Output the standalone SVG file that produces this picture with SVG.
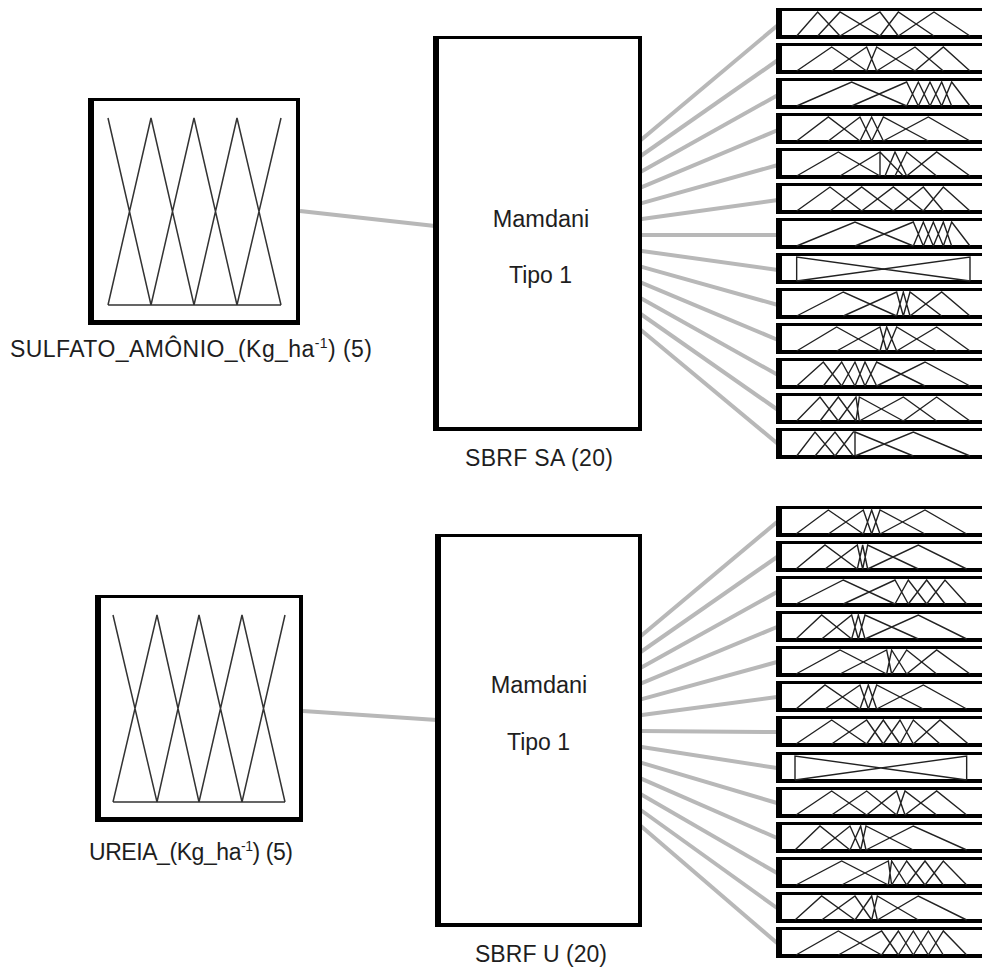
<svg xmlns="http://www.w3.org/2000/svg" xmlns:xlink="http://www.w3.org/1999/xlink" width="982" height="970" viewBox="0 0 982 970">
<style>
text{font-family:"Liberation Sans",Arial,sans-serif;fill:#1e1e1e}
.conn{stroke:#b8b8b8;stroke-width:4;fill:none}
.imf{stroke:#333;stroke-width:1.5;fill:none}
.omf{stroke:#222;stroke-width:1.4;fill:none;vector-effect:non-scaling-stroke}
</style>
<defs>
<g id="oframe">
<rect x="778" y="1.5" width="220" height="27" fill="#fff" stroke="#000" stroke-width="3"/>
<rect x="776" y="0" width="6" height="31" fill="#000"/>
<rect x="776" y="27" width="220" height="4" fill="#000"/>
</g>
</defs>
<rect width="982" height="970" fill="#fff"/>
<g id="connectors">
<line class="conn" x1="300" y1="211" x2="435" y2="226"/>
<line class="conn" x1="303" y1="711" x2="437" y2="720"/>
<line class="conn" x1="640" y1="140.8" x2="778" y2="25"/>
<line class="conn" x1="640" y1="156.5" x2="778" y2="60"/>
<line class="conn" x1="640" y1="172.2" x2="778" y2="95"/>
<line class="conn" x1="640" y1="187.9" x2="778" y2="130"/>
<line class="conn" x1="640" y1="203.6" x2="778" y2="165"/>
<line class="conn" x1="640" y1="219.3" x2="778" y2="200"/>
<line class="conn" x1="640" y1="235" x2="778" y2="235"/>
<line class="conn" x1="640" y1="250.7" x2="778" y2="270"/>
<line class="conn" x1="640" y1="266.4" x2="778" y2="305"/>
<line class="conn" x1="640" y1="282.1" x2="778" y2="340"/>
<line class="conn" x1="640" y1="297.8" x2="778" y2="375"/>
<line class="conn" x1="640" y1="313.5" x2="778" y2="410"/>
<line class="conn" x1="640" y1="329.2" x2="778" y2="444"/>
<line class="conn" x1="640" y1="636.8" x2="777" y2="522"/>
<line class="conn" x1="640" y1="652.5" x2="777" y2="557"/>
<line class="conn" x1="640" y1="668.2" x2="777" y2="592"/>
<line class="conn" x1="640" y1="683.9" x2="777" y2="627"/>
<line class="conn" x1="640" y1="699.6" x2="777" y2="662"/>
<line class="conn" x1="640" y1="715.3" x2="777" y2="697"/>
<line class="conn" x1="640" y1="731" x2="777" y2="732"/>
<line class="conn" x1="640" y1="746.7" x2="777" y2="768"/>
<line class="conn" x1="640" y1="762.4" x2="777" y2="803"/>
<line class="conn" x1="640" y1="778.1" x2="777" y2="838"/>
<line class="conn" x1="640" y1="793.8" x2="777" y2="873"/>
<line class="conn" x1="640" y1="809.5" x2="777" y2="908"/>
<line class="conn" x1="640" y1="825.2" x2="777" y2="943"/>
</g>

<g id="in-sulfato">
<rect x="90.5" y="99.5" width="208" height="223" fill="#fff" stroke="#000" stroke-width="3"/>
<rect x="88" y="98" width="6" height="227" fill="#000"/>
<rect x="88" y="320" width="212" height="5" fill="#000"/>
<rect x="296" y="98" width="4" height="227" fill="#000"/>
<path class="imf" d="M108,118 L151,305 M108,305 L151,118 L194,305 M151,305 L194,118 L237,305 M194,305 L237,118 L281,305 M237,305 L281,118 M108,305 L281,305"/>
<text x="10" y="357" font-size="23" textLength="362" lengthAdjust="spacing">SULFATO_AMÔNIO_(Kg_ha<tspan font-size="14" dy="-9">-1</tspan><tspan dy="9">) (5)</tspan></text>
</g>

<g id="in-ureia">
<rect x="97.5" y="596.5" width="204" height="223" fill="#fff" stroke="#000" stroke-width="3"/>
<rect x="95" y="595" width="6" height="227" fill="#000"/>
<rect x="95" y="817" width="208" height="5" fill="#000"/>
<rect x="299" y="595" width="4" height="227" fill="#000"/>
<path class="imf" d="M113,615 L157,802 M113,802 L157,615 L199,802 M157,802 L199,615 L242,802 M199,802 L242,615 L285,802 M242,802 L285,615 M113,802 L285,802"/>
<text x="89" y="860" font-size="23" textLength="204" lengthAdjust="spacing">UREIA_(Kg_ha<tspan font-size="14" dy="-9">-1</tspan><tspan dy="9">) (5)</tspan></text>
</g>

<g id="sbrf-sa">
<rect x="435.5" y="37.5" width="205" height="391" fill="#fff" stroke="#000" stroke-width="3"/>
<rect x="433" y="36" width="6" height="395" fill="#000"/>
<rect x="433" y="427" width="209" height="4" fill="#000"/>
<rect x="638" y="36" width="4" height="395" fill="#000"/>
<text x="541" y="227" font-size="23.5" text-anchor="middle">Mamdani</text>
<text x="540.5" y="283" font-size="23" text-anchor="middle">Tipo 1</text>
<text x="539" y="466" font-size="23" text-anchor="middle" textLength="148" lengthAdjust="spacing">SBRF SA (20)</text>
</g>

<g id="sbrf-u">
<rect x="437.5" y="535.5" width="203" height="389" fill="#fff" stroke="#000" stroke-width="3"/>
<rect x="435" y="534" width="6" height="393" fill="#000"/>
<rect x="435" y="923" width="207" height="4" fill="#000"/>
<rect x="638" y="534" width="4" height="393" fill="#000"/>
<text x="539" y="693" font-size="23.5" text-anchor="middle">Mamdani</text>
<text x="538.5" y="750" font-size="23" text-anchor="middle">Tipo 1</text>
<text x="541" y="962" font-size="23" text-anchor="middle" textLength="132" lengthAdjust="spacing">SBRF U (20)</text>
</g>

<g id="out-sa-1"><use xlink:href="#oframe" y="8"/><g transform="translate(770,8) scale(0.33333,1)"><path class="omf" d="M80,28L143,4L210,28M143,28L210,4L330,28M210,28L330,4L385,28M330,28L385,4L492,28M385,28L492,4L600,28"/></g></g>
<g id="out-sa-2"><use xlink:href="#oframe" y="43"/><g transform="translate(770,43) scale(0.33333,1)"><path class="omf" d="M80,28L185,4L290,28M185,28L290,4L320,28M290,28L320,4L435,28M320,28L435,4L520,28M435,28L520,4L600,28"/></g></g>
<g id="out-sa-3"><use xlink:href="#oframe" y="78"/><g transform="translate(770,78) scale(0.33333,1)"><path class="omf" d="M80,28L245,4L410,28M245,28L410,4L445,28M410,28L445,4L480,28M445,28L480,4L515,28M480,28L515,4L545,28M515,28L545,4L600,28"/></g></g>
<g id="out-sa-4"><use xlink:href="#oframe" y="113"/><g transform="translate(770,113) scale(0.33333,1)"><path class="omf" d="M80,28L175,4L270,28M175,28L270,4L305,28M270,28L305,4L340,28M305,28L340,4L475,28M340,28L475,4L600,28"/></g></g>
<g id="out-sa-5"><use xlink:href="#oframe" y="148"/><g transform="translate(770,148) scale(0.33333,1)"><path class="omf" d="M80,28L205,4L330,28M210,28L330,4L330,28M330,4L400,28M345,28L375,4L410,28M375,28L410,4L500,28M410,28L500,4L600,28"/></g></g>
<g id="out-sa-6"><use xlink:href="#oframe" y="183"/><g transform="translate(770,183) scale(0.33333,1)"><path class="omf" d="M80,28L180,4L275,28M180,28L275,4L370,28M275,28L370,4L460,28M370,28L460,4L520,28M460,28L520,4L600,28"/></g></g>
<g id="out-sa-7"><use xlink:href="#oframe" y="218"/><g transform="translate(770,218) scale(0.33333,1)"><path class="omf" d="M80,28L255,4L430,28M255,28L430,4L460,28M430,28L460,4L490,28M460,28L490,4L520,28M490,28L520,4L545,28M520,28L545,4L600,28"/></g></g>
<g id="out-sa-8"><use xlink:href="#oframe" y="253"/><g transform="translate(770,253) scale(0.33333,1)"><path class="omf" d="M80,28L80,4L600,28M80,28L600,4L600,28"/></g></g>
<g id="out-sa-9"><use xlink:href="#oframe" y="288"/><g transform="translate(770,288) scale(0.33333,1)"><path class="omf" d="M80,28L220,4L380,28M220,28L380,4L400,28M380,28L400,4L420,28M400,28L420,4L515,28M420,28L515,4L600,28"/></g></g>
<g id="out-sa-10"><use xlink:href="#oframe" y="323"/><g transform="translate(770,323) scale(0.33333,1)"><path class="omf" d="M80,28L200,4L330,28M200,28L330,4L350,28M330,28L350,4L380,28M350,28L380,4L500,28M380,28L500,4L600,28"/></g></g>
<g id="out-sa-11"><use xlink:href="#oframe" y="358"/><g transform="translate(770,358) scale(0.33333,1)"><path class="omf" d="M80,28L160,4L215,28M160,28L215,4L255,28M215,28L255,4L285,28M255,28L285,4L320,28M285,28L320,4L465,28M320,28L465,4L600,28"/></g></g>
<g id="out-sa-12"><use xlink:href="#oframe" y="393"/><g transform="translate(770,393) scale(0.33333,1)"><path class="omf" d="M80,28L150,4L205,28M150,28L205,4L258,28M205,28L258,4L268,28M258,28L268,4L400,28M268,28L400,4L500,28M400,28L500,4L600,28"/></g></g>
<g id="out-sa-13"><use xlink:href="#oframe" y="428"/><g transform="translate(770,428) scale(0.33333,1)"><path class="omf" d="M80,28L135,4L195,28M135,28L195,4L250,28M195,28L250,4L255,4L255,28M255,4L430,28M255,28L430,4L600,28"/></g></g>

<g id="out-u-1"><use xlink:href="#oframe" y="506"/><g transform="translate(770,506) scale(0.33333,1)"><path class="omf" d="M78,28L175,4L280,28M175,28L280,4L305,28M280,28L305,4L330,28M305,28L330,4L465,28M330,28L465,4L590,28"/></g></g>
<g id="out-u-2"><use xlink:href="#oframe" y="541"/><g transform="translate(770,541) scale(0.33333,1)"><path class="omf" d="M78,28L165,4L262,28M165,28L262,4L278,28M262,28L278,4L293,28M278,28L293,4L445,28M293,28L445,4L590,28"/></g></g>
<g id="out-u-3"><use xlink:href="#oframe" y="576"/><g transform="translate(770,576) scale(0.33333,1)"><path class="omf" d="M78,28L220,4L375,28M220,28L375,4L415,28M375,28L415,4L470,28M415,28L470,4L525,28M470,28L525,4L590,28"/></g></g>
<g id="out-u-4"><use xlink:href="#oframe" y="611"/><g transform="translate(770,611) scale(0.33333,1)"><path class="omf" d="M78,28L155,4L245,28M155,28L245,4L265,28M245,28L265,4L285,28M265,28L285,4L445,28M285,28L445,4L590,28"/></g></g>
<g id="out-u-5"><use xlink:href="#oframe" y="646"/><g transform="translate(770,646) scale(0.33333,1)"><path class="omf" d="M78,28L210,4L350,28M210,28L350,4L365,28M350,28L365,4L410,28M365,28L410,4L500,28M410,28L500,4L600,28"/></g></g>
<g id="out-u-6"><use xlink:href="#oframe" y="681"/><g transform="translate(770,681) scale(0.33333,1)"><path class="omf" d="M78,28L165,4L270,28M165,28L270,4L295,28M270,28L295,4L320,28M295,28L320,4L460,28M320,28L460,4L590,28"/></g></g>
<g id="out-u-7"><use xlink:href="#oframe" y="716"/><g transform="translate(770,716) scale(0.33333,1)"><path class="omf" d="M78,28L185,4L290,28M185,28L290,4L340,28M290,28L340,4L390,28M340,28L390,4L430,28M390,28L430,4L510,28M430,28L510,4L595,28"/></g></g>
<g id="out-u-8"><use xlink:href="#oframe" y="752"/><g transform="translate(770,752) scale(0.33333,1)"><path class="omf" d="M75,28L75,4L590,28M75,28L590,4L590,28"/></g></g>
<g id="out-u-9"><use xlink:href="#oframe" y="787"/><g transform="translate(770,787) scale(0.33333,1)"><path class="omf" d="M78,28L185,4L290,28M185,28L290,4L380,28M290,28L380,4L405,28M380,28L405,4L500,28M405,28L500,4L590,28"/></g></g>
<g id="out-u-10"><use xlink:href="#oframe" y="822"/><g transform="translate(770,822) scale(0.33333,1)"><path class="omf" d="M75,28L150,4L240,28M150,28L240,4L272,28M240,28L272,4L288,28M272,28L288,4L430,28M288,28L430,4L590,28"/></g></g>
<g id="out-u-11"><use xlink:href="#oframe" y="857"/><g transform="translate(770,857) scale(0.33333,1)"><path class="omf" d="M78,28L215,4L355,28M215,28L355,4L365,28M355,28L365,4L410,28M365,28L410,4L465,28M410,28L465,4L520,28M465,28L520,4L590,28"/></g></g>
<g id="out-u-12"><use xlink:href="#oframe" y="892"/><g transform="translate(770,892) scale(0.33333,1)"><path class="omf" d="M75,28L155,4L255,28M155,28L255,4L305,28M255,28L305,4L322,28M305,28L322,4L445,28M322,28L445,4L590,28"/></g></g>
<g id="out-u-13"><use xlink:href="#oframe" y="927"/><g transform="translate(770,927) scale(0.33333,1)"><path class="omf" d="M78,28L205,4L335,28M205,28L335,4L385,28M335,28L385,4L430,28M385,28L430,4L475,28M430,28L475,4L520,28M475,28L520,4L590,28"/></g></g>
</svg>
